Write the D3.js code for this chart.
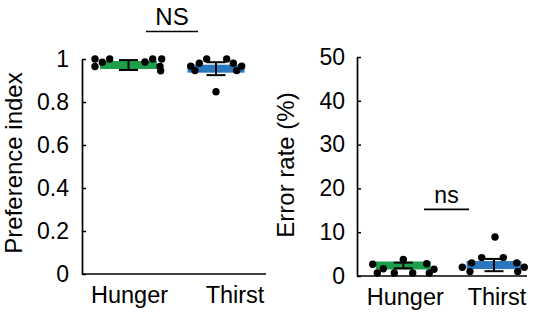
<!DOCTYPE html>
<html>
<head>
<meta charset="utf-8">
<script src="https://cdn.jsdelivr.net/npm/d3@7/dist/d3.min.js"></script>
<style>
  html, body { margin: 0; padding: 0; background: #fff; }
  svg { display: block; font-family: "Liberation Sans", Arial, Helvetica, sans-serif; }
</style>
</head>
<body>
<svg id="chart" width="552" height="323"></svg>
<script>
// ---- data ----
const categories = ["Hunger", "Thirst"];

// Preference index per animal
const hungerPreference = [1.0, 0.965, 0.985, 1.0, 0.986, 1.0, 1.0, 0.965, 0.945];
const thirstPreference = [0.967, 0.946, 0.98, 1.0, 1.0, 0.98, 0.946, 0.967, 0.848];
const preferenceMean = [0.972, 0.955];
const preferenceSem = [0.023, 0.03];
const preferenceTicks = [0, 0.2, 0.4, 0.6, 0.8, 1];

// Error rate (%) per animal
const hungerErrorRate = [2.67, 0.68, 1.66, 0.68, 3.8, 0.68, 2.8, 0.68, 1.53];
const thirstErrorRate = [2.0, 1.0, 3.0, 4.2, 8.9, 4.2, 3.0, 1.0, 2.0];
const errorRateMean = [2.4, 2.5];
const errorRateSem = [0.65, 1.4];
const errorRateTicks = [0, 10, 20, 30, 40, 50];

const significance = ["NS", "ns"];

// ---- layout: horizontal scatter of the dots inside each group (px) ----
const spreadPref = [
  [-33.5, -33.5, -26.2, -18.8, 16.5, 24.2, 33.2, 31.5, 32.2],
  [-25.3, -21, -16.7, -9.3, 10.7, 17.3, 20.7, 25.7, 0]
];
const spreadErr = [
  [-30.6, -26, -20, -9, 0, 9.4, 23.4, 26, 30.7],
  [-31.7, -24, -22.3, -12.3, 1, 9.3, 22.7, 23.7, 30.3]
];

const colors = ["#1c9e4b", "#2a77bf"];
const svg = d3.select("#chart");

function panel(opts) {
  const g = svg.append("g");
  const y = d3.scaleLinear().domain(opts.domain).range([opts.y0, opts.y1]);
  const x = d3.scalePoint().domain(categories).range(opts.centers);

  // y axis with inward ticks
  const yAxis = d3.axisLeft(y)
    .tickValues(opts.ticks)
    .tickFormat(d3.format("~g"))
    .tickSizeInner(-4)
    .tickSizeOuter(0)
    .tickPadding(opts.tickPad);
  const ya = g.append("g").attr("transform", `translate(${opts.xLeft},0)`).call(yAxis);
  ya.select(".domain").attr("stroke", "#000").attr("stroke-width", 1.7);
  ya.selectAll(".tick line").attr("stroke", "#000").attr("stroke-width", 1.5);
  ya.selectAll(".tick text").attr("font-size", 23).attr("fill", "#000");

  // x baseline
  g.append("line")
    .attr("x1", opts.xLeft).attr("x2", opts.xRight)
    .attr("y1", y(opts.domain[0])).attr("y2", y(opts.domain[0]))
    .attr("stroke", "#000").attr("stroke-width", 1.7);

  // category labels
  g.selectAll(".cat").data(categories).join("text")
    .attr("x", (d, i) => x(d) + opts.labelShift[i])
    .attr("y", opts.labelY)
    .attr("text-anchor", "middle")
    .attr("font-size", 23.5)
    .text(d => d);

  // y title
  g.append("text")
    .attr("transform", `translate(${opts.titleX},${opts.titleY}) rotate(-90)`)
    .attr("text-anchor", "middle")
    .attr("font-size", 24)
    .text(opts.title);

  const bandW = opts.bandW, bandH = 8, capW = 19;

  categories.forEach((c, i) => {
    const cx = x(c);
    const m = opts.mean[i], s = opts.sem[i];
    // mean band
    g.append("rect")
      .attr("x", cx - bandW / 2).attr("width", bandW)
      .attr("y", y(m) - bandH / 2).attr("height", bandH)
      .attr("fill", colors[i]);
    // error bar
    const eb = g.append("g").attr("stroke", "#000").attr("stroke-width", 2);
    eb.append("line").attr("x1", cx).attr("x2", cx).attr("y1", y(m + s)).attr("y2", y(m - s));
    eb.append("line").attr("x1", cx - capW / 2).attr("x2", cx + capW / 2).attr("y1", y(m + s)).attr("y2", y(m + s));
    eb.append("line").attr("x1", cx - capW / 2).attr("x2", cx + capW / 2).attr("y1", y(m - s)).attr("y2", y(m - s));
    // individual animals
    g.append("g").selectAll("circle").data(opts.values[i]).join("circle")
      .attr("cx", (d, k) => cx + opts.spread[i][k])
      .attr("cy", d => y(d))
      .attr("r", 3.7)
      .attr("fill", "#000");
  });

  // significance bracket
  g.append("line")
    .attr("x1", opts.sig.x1).attr("x2", opts.sig.x2)
    .attr("y1", opts.sig.y).attr("y2", opts.sig.y)
    .attr("stroke", "#000").attr("stroke-width", 1.7);
  g.append("text")
    .attr("x", (opts.sig.x1 + opts.sig.x2) / 2)
    .attr("y", opts.sig.textY)
    .attr("text-anchor", "middle")
    .attr("font-size", opts.sig.size)
    .text(opts.sig.label);
}

panel({
  domain: [0, 1], y0: 274, y1: 59, ticks: preferenceTicks, tickPad: 13,
  xLeft: 82, xRight: 266, centers: [128.5, 216], bandW: 57,
  labelShift: [1, 19], labelY: 303,
  title: "Preference index", titleX: 22, titleY: 163,
  mean: preferenceMean, sem: preferenceSem,
  values: [hungerPreference, thirstPreference], spread: spreadPref,
  sig: { x1: 146, x2: 198, y: 31.5, textY: 25, label: significance[0], size: 24 }
});

panel({
  domain: [0, 50], y0: 276, y1: 57, ticks: errorRateTicks, tickPad: 12,
  xLeft: 357, xRight: 527, centers: [403.3, 494], bandW: 55,
  labelShift: [2, 3], labelY: 305,
  title: "Error rate (%)", titleX: 294, titleY: 165,
  mean: errorRateMean, sem: errorRateSem,
  values: [hungerErrorRate, thirstErrorRate], spread: spreadErr,
  sig: { x1: 424, x2: 469, y: 209.3, textY: 202.5, label: significance[1], size: 23 }
});
</script>
</body>
</html>
